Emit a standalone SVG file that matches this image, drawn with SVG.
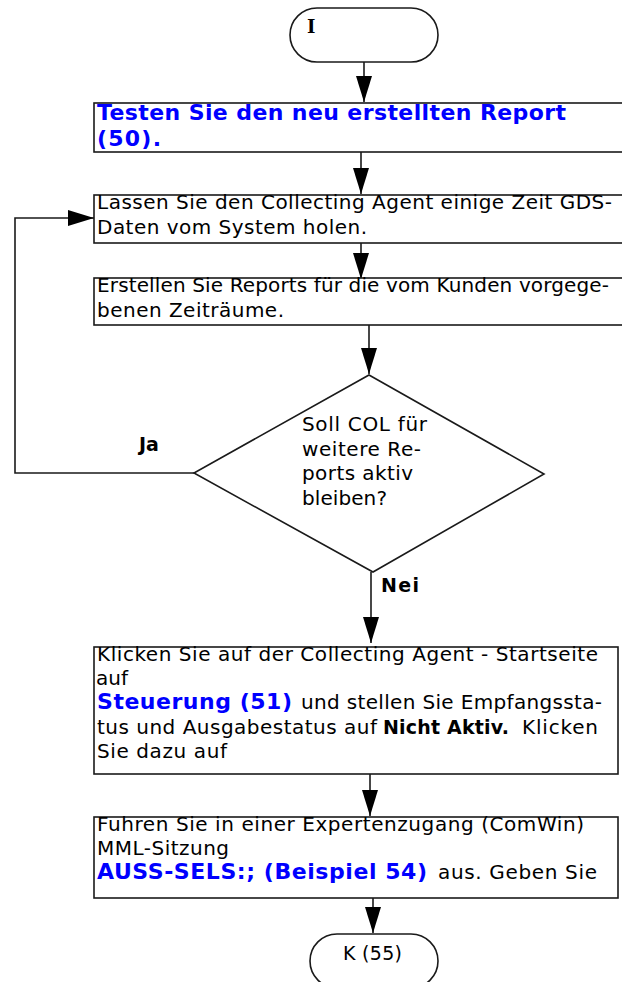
<svg xmlns="http://www.w3.org/2000/svg" width="622" height="982" viewBox="0 0 622 982">
<style>
.shape{fill:#fff;stroke:#1a1a1a;stroke-width:1.6}
.conn{fill:none;stroke:#1a1a1a;stroke-width:1.6}
.t{font-family:"DejaVu Sans","Verdana",sans-serif;font-size:20px;fill:#000}
.d{font-family:"DejaVu Sans","Verdana",sans-serif;font-size:20px;fill:#000}
.b{font-family:"DejaVu Sans","Verdana",sans-serif;font-size:22px;font-weight:bold;fill:#0000ff}
.k{font-family:"DejaVu Sans","Verdana",sans-serif;font-size:19px;font-weight:bold;fill:#000}
.lbl{font-family:"DejaVu Sans","Verdana",sans-serif;font-size:19px;font-weight:bold;fill:#000}
.ser{font-family:"DejaVu Serif","Liberation Serif",serif;font-size:18px;font-weight:bold;fill:#000}
</style>
<defs>
<marker id="ah" markerUnits="userSpaceOnUse" markerWidth="27" markerHeight="17" refX="26" refY="8" orient="auto">
<path d="M0,0 L26,8 L0,16 Z" fill="#000"/>
</marker>
</defs>
<rect width="622" height="982" fill="#fff"/>

<g id="connectors">
<line class="conn" x1="364" y1="62" x2="364" y2="102" marker-end="url(#ah)"/>
<line class="conn" x1="361" y1="152" x2="361" y2="194" marker-end="url(#ah)"/>
<line class="conn" x1="361" y1="243" x2="361" y2="279" marker-end="url(#ah)"/>
<line class="conn" x1="369" y1="325" x2="369" y2="374" marker-end="url(#ah)"/>
<polyline class="conn" points="194,473 15,473 15,218 94,218" marker-end="url(#ah)"/>
<line class="conn" x1="371" y1="572" x2="371" y2="643" marker-end="url(#ah)"/>
<line class="conn" x1="370" y1="774" x2="370" y2="816" marker-end="url(#ah)"/>
<line class="conn" x1="373" y1="898" x2="373" y2="933" marker-end="url(#ah)"/>
</g>

<g id="start">
<rect class="shape" x="290" y="8" width="148" height="54" rx="27" ry="27"/>
<text class="ser" x="307" y="33">I</text>
</g>

<g id="step50">
<rect class="shape" x="94" y="103" width="532" height="49"/>
<text class="b" x="97" y="120" textLength="469" lengthAdjust="spacing">Testen Sie den neu erstellten Report</text>
<text class="b" x="97" y="146" textLength="64" lengthAdjust="spacing">(50).</text>
</g>

<g id="collect">
<rect class="shape" x="94" y="195" width="532" height="48"/>
<text class="t" x="97" y="209" textLength="515" lengthAdjust="spacing">Lassen Sie den Collecting Agent einige Zeit GDS-</text>
<text class="t" x="97" y="234" textLength="270" lengthAdjust="spacing">Daten vom System holen.</text>
</g>

<g id="reports">
<rect class="shape" x="94" y="278" width="532" height="47"/>
<text class="t" x="97" y="292" textLength="512" lengthAdjust="spacing">Erstellen Sie Reports für die vom Kunden vorgege-</text>
<text class="t" x="97" y="317" textLength="187" lengthAdjust="spacing">benen Zeiträume.</text>
</g>

<g id="decision">
<polygon class="shape" points="369,375 544,474 373,572 194,473"/>
<text class="d" x="302" y="431" textLength="125" lengthAdjust="spacing">Soll COL für</text>
<text class="d" x="302" y="456" textLength="119" lengthAdjust="spacing">weitere Re-</text>
<text class="d" x="302" y="480" textLength="111" lengthAdjust="spacing">ports aktiv</text>
<text class="d" x="302" y="505" textLength="85" lengthAdjust="spacing">bleiben?</text>
<text class="lbl" x="139" y="451">Ja</text>
<text class="lbl" x="381" y="592" textLength="38" lengthAdjust="spacing">Nei</text>
</g>

<g id="step51">
<rect class="shape" x="94" y="647" width="524" height="127"/>
<text class="t" x="97" y="661" textLength="501" lengthAdjust="spacing">Klicken Sie auf der Collecting Agent - Startseite</text>
<text class="t" x="96" y="685" textLength="32" lengthAdjust="spacing">auf</text>
<text class="b" x="97" y="709" textLength="195" lengthAdjust="spacing">Steuerung (51)</text>
<text class="t" x="301" y="709" textLength="301" lengthAdjust="spacing">und stellen Sie Empfangssta-</text>
<text class="t" x="97" y="734" textLength="280" lengthAdjust="spacing">tus und Ausgabestatus auf</text>
<text class="k" x="383" y="734" textLength="126" lengthAdjust="spacing">Nicht Aktiv.</text>
<text class="t" x="522" y="734" textLength="76" lengthAdjust="spacing">Klicken</text>
<text class="t" x="97" y="758" textLength="130" lengthAdjust="spacing">Sie dazu auf</text>
</g>

<g id="step54">
<rect class="shape" x="94" y="817" width="524" height="81"/>
<text class="t" x="97" y="831" textLength="487" lengthAdjust="spacing">Fuhren Sie in einer Expertenzugang (ComWin)</text>
<text class="t" x="97" y="855" textLength="132" lengthAdjust="spacing">MML-Sitzung</text>
<text class="b" x="97" y="879" textLength="330" lengthAdjust="spacing">AUSS-SELS:; (Beispiel 54)</text>
<text class="t" x="438" y="879" textLength="159" lengthAdjust="spacing">aus. Geben Sie</text>
</g>

<g id="end">
<rect class="shape" x="310" y="934" width="128" height="54" rx="27" ry="27"/>
<text class="t" x="343" y="960" textLength="59" lengthAdjust="spacing" style="font-size:19px">K (55)</text>
</g>
</svg>
